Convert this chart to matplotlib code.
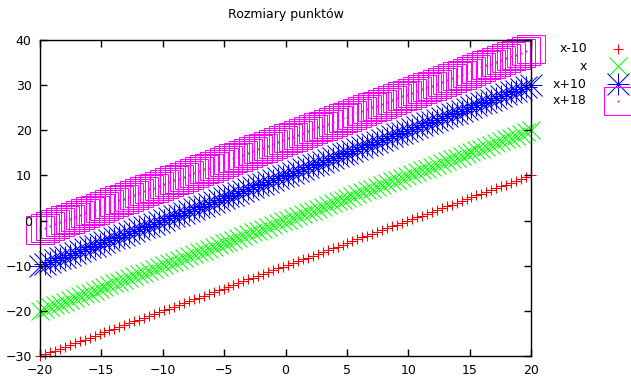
import numpy as np
import matplotlib.pyplot as plt
from matplotlib.lines import Line2D

# gnuplot-style sampled functions: y = x + offset, 100 samples on [-20, 20]
x_min, x_max = -20, 20
n_samples = 100
offsets = [-10, 0, 10, 18]
labels = ['x-10', 'x', 'x+10', 'x+18']
markers = ['+', 'x', '*', 's']
sizes = [7.5, 12.5, 16, 19.5]
colors = ['#ff0000', '#00ff00', '#0000ff', '#ff00ff']
xticks = [-20, -15, -10, -5, 0, 5, 10, 15, 20]
yticks = [-30, -20, -10, 0, 10, 20, 30, 40]

x = np.linspace(x_min, x_max, n_samples)
LW = 0.75


def draw_points(target, xs, ys, mk, ms, c):
    # gnuplot point types: +, x, * (= + and x together), open square with a dot
    if mk == '*':
        parts = [dict(marker='+', ms=ms, color=c), dict(marker='x', ms=ms, color=c)]
    elif mk == 's':
        parts = [dict(marker='s', ms=ms, mfc='none', mec=c),
                 dict(marker='.', ms=1.5, color=c)]
    else:
        parts = [dict(marker=mk, ms=ms, color=c)]
    for p in parts:
        target(xs, ys, p)


def on_axes(xs, ys, p):
    ax.plot(xs, ys, linestyle='none', mew=LW, clip_on=False, **p)


def on_fig(xs, ys, p):
    fig.add_artist(Line2D(xs, ys, linestyle='none', mew=LW, **p))


fig = plt.figure(figsize=(6.31, 3.83), dpi=100)
ax = fig.add_axes([40 / 631, 1 - 356 / 383, 491 / 631, 316 / 383])

for off, mk, ms, c in zip(offsets, markers, sizes, colors):
    draw_points(on_axes, x, x + off, mk, ms, c)

ax.set_xlim(x_min, x_max)
ax.set_ylim(-30, 40)
ax.set_xticks(xticks)
ax.set_yticks(yticks)
ax.set_axisbelow(False)
ax.tick_params(direction='in', length=5, width=1, labelsize=9, top=True, right=True, pad=6)
for s in ax.spines.values():
    s.set_linewidth(1)
    s.set_zorder(3)
ax.set_title('Rozmiary punktów', fontsize=9, pad=16)

# legend drawn by hand, gnuplot style (text right aligned, sample to the right)
leg_y = [49, 66, 84, 101]
for lab, py, mk, ms, c in zip(labels, leg_y, markers, sizes, colors):
    fy = 1 - py / 383
    fig.text(587 / 631, fy, lab, ha='right', va='center', fontsize=9)
    draw_points(on_fig, [618 / 631], [fy], mk, ms, c)

fig.savefig('out.png', dpi=100)
